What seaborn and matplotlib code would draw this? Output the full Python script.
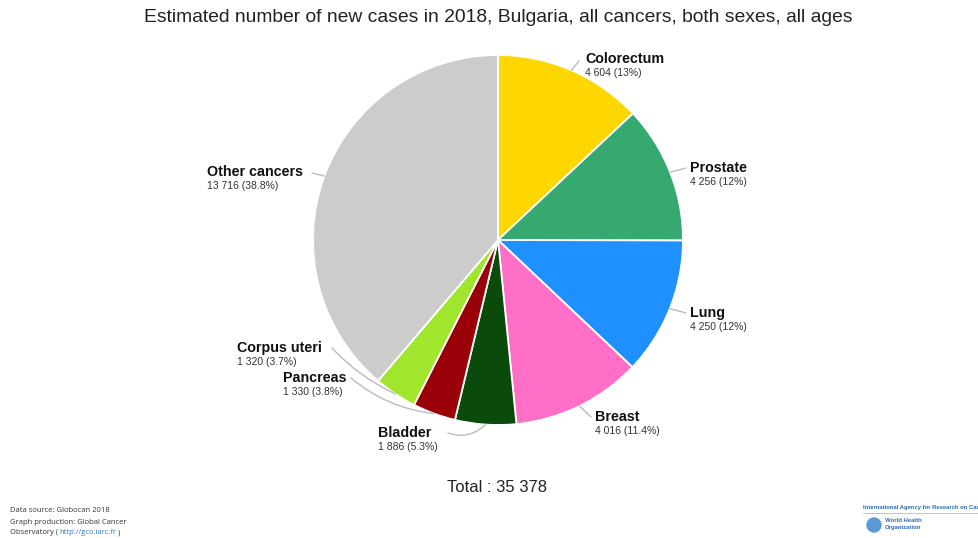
import numpy as np
import matplotlib
matplotlib.use("Agg")
import matplotlib.pyplot as plt
import seaborn as sns

# Data
cancers = ["Colorectum", "Prostate", "Lung", "Breast", "Bladder",
           "Pancreas", "Corpus uteri", "Other cancers"]
cases = [4604, 4256, 4250, 4016, 1886, 1330, 1320, 13716]
percent_labels = ["13%", "12%", "12%", "11.4%", "5.3%", "3.8%", "3.7%", "38.8%"]
slice_colors = ["#FFD700", "#36A970", "#1E90FF", "#FF6EC7", "#0A4A0A",
                "#990008", "#A0E62C", "#CCCCCC"]

# label layout (pixel coords of the label's top-left corner, leader curvature)
label_pos = [(585, 52), (690, 161), (690, 306), (595, 410), (378, 426),
             (283, 371), (237, 341), (207, 165)]
label_rad = [0.0, 0.0, 0.0, 0.0, 0.3, 0.15, 0.1, 0.0]

W, H = 979, 538
CX, CY, R = 498, 240, 185


def fmt(n):
    return f"{n:,}".replace(",", " ")


def main():
    sns.set_theme(style="white")
    plt.rcParams["font.family"] = ["Liberation Sans", "DejaVu Sans"]

    fig = plt.figure(figsize=(W / 100, H / 100), dpi=100)
    ax = fig.add_axes([0, 0, 1, 1])

    # y axis is flipped below, so counterclock in data runs clockwise on screen
    ax.pie(cases, colors=slice_colors, startangle=-90, counterclock=True,
           center=(CX, CY), radius=R, frame=True,
           wedgeprops=dict(edgecolor="white", linewidth=1.3))
    ax.set_xlim(0, W)
    ax.set_ylim(H, 0)
    ax.set_aspect("auto")
    ax.axis("off")

    total = sum(cases)
    cum = np.cumsum([0] + cases)
    for i, name in enumerate(cancers):
        mid = (cum[i] + cum[i + 1]) / 2 / total * 360
        ang = np.deg2rad(90 - mid)
        ex = CX + R * np.cos(ang)
        ey = CY - R * np.sin(ang)
        lx, ly = label_pos[i]
        ax.text(lx, ly, name, fontsize=10.3, fontweight="bold",
                color="#111111", va="top", ha="left")
        ax.text(lx, ly + 16, f"{fmt(cases[i])} ({percent_labels[i]})",
                fontsize=7.5, color="#333333", va="top", ha="left")
        # leader line
        if ex > CX:
            sx, sy = lx - 4, ly + 7
            if name == "Colorectum":
                sx, sy = lx - 6, ly + 9
        else:
            if name == "Other cancers":
                sx, sy = lx + 105, ly + 8
            elif name == "Bladder":
                sx, sy = lx + 70, ly + 7
            elif name == "Corpus uteri":
                sx, sy = lx + 95, ly + 7
            else:
                sx, sy = lx + 68, ly + 7
        ax.annotate("", xy=(ex, ey), xytext=(sx, sy),
                    arrowprops=dict(arrowstyle="-", color="#BBBBBB", lw=1.0,
                                    shrinkA=0, shrinkB=0,
                                    connectionstyle=f"arc3,rad={label_rad[i]}"))

    ax.text(498, 18, "Estimated number of new cases in 2018, Bulgaria, all cancers, both sexes, all ages",
            fontsize=13.9, ha="center", va="center", color="#222222")
    ax.text(497, 487, f"Total : {fmt(total)}", fontsize=12, ha="center",
            va="center", color="#222222")

    # footer, pieces placed one after another
    foot = dict(fontsize=5.5, ha="left", va="center", color="#333333",
                family=["Open Sans", "DejaVu Sans"])
    ax.text(10, 511, "Data source: Globocan 2018", **foot)
    ax.text(10, 522, "Graph production: Global Cancer", **foot)
    renderer = fig.canvas.get_renderer()
    x = 10
    for part, col in [("Observatory (", "#333333"), ("http://gco.iarc.fr", "#3A7BC8"),
                      (")", "#333333")]:
        t = ax.text(x, 533, part, **{**foot, "color": col})
        bb = t.get_window_extent(renderer)
        x += bb.width + 1

    ax.text(863, 508, "International Agency for Research on Cancer", fontsize=4.2,
            fontweight="bold", color="#2B6CB0", ha="left", va="center")
    ax.plot([863, 979], [513, 513], color="#AAAAAA", lw=0.5)
    ax.add_patch(plt.Circle((874, 525), 7, color="#5B9BD5"))
    ax.text(885, 521, "World Health", fontsize=4.3, fontweight="bold",
            color="#2B6CB0", ha="left", va="center")
    ax.text(885, 528, "Organization", fontsize=4.3, fontweight="bold",
            color="#2B6CB0", ha="left", va="center")

    fig.savefig("out.png", dpi=100, facecolor="white")


if __name__ == "__main__":
    main()
